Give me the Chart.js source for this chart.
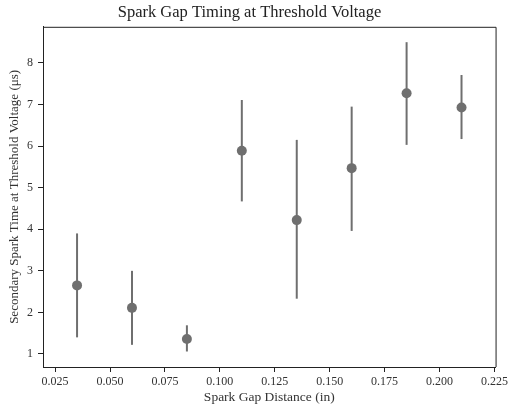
<!DOCTYPE html>
<html>
<head>
<meta charset="utf-8">
<script src="https://cdn.jsdelivr.net/npm/chart.js@4.4.0/dist/chart.umd.min.js"></script>
<style>
    html, body { margin: 0; padding: 0; background: #ffffff; }
    #wrap { width: 511px; height: 410px; position: relative; }
</style>
</head>
<body>
<div id="wrap"><canvas id="gapChart"></canvas></div>
<script>
// spark gap distance (in)
const gapDistance = [0.035, 0.060, 0.085, 0.110, 0.135, 0.160, 0.185, 0.210];
// mean secondary spark time (us)
const sparkTime = [2.65, 2.11, 1.36, 5.89, 4.22, 5.47, 7.27, 6.93];
// error bar ends
const errLow = [1.40, 1.22, 1.06, 4.67, 2.33, 3.96, 6.03, 6.17];
const errHigh = [3.90, 3.00, 1.69, 7.11, 6.15, 6.95, 8.50, 7.71];
// tick labels
const xTicks = [0.025, 0.050, 0.075, 0.100, 0.125, 0.150, 0.175, 0.200, 0.225];
const yTicks = [1, 2, 3, 4, 5, 6, 7, 8];

const markColor = '#6f6f6f';
const axisColor = '#222222';
const serif = "'Liberation Serif', 'DejaVu Serif', serif";

// draws the vertical error bars under the points
const errorBars = {
    id: 'errorBars',
    beforeDatasetsDraw(chart) {
        const ctx = chart.ctx;
        const xs = chart.scales.x;
        const ys = chart.scales.y;
        ctx.save();
        ctx.strokeStyle = markColor;
        ctx.lineWidth = 2;
        gapDistance.forEach((gx, i) => {
            const px = xs.getPixelForValue(gx);
            ctx.beginPath();
            ctx.moveTo(px, ys.getPixelForValue(errLow[i]));
            ctx.lineTo(px, ys.getPixelForValue(errHigh[i]));
            ctx.stroke();
        });
        ctx.restore();
    }
};

// top and right spines
const frame = {
    id: 'frame',
    afterDraw(chart) {
        const { ctx, chartArea: a } = chart;
        ctx.save();
        ctx.strokeStyle = axisColor;
        ctx.lineWidth = 1;
        ctx.beginPath();
        ctx.moveTo(a.left, a.top + 0.5);
        ctx.lineTo(a.right + 0.5, a.top + 0.5);
        ctx.lineTo(a.right + 0.5, a.bottom);
        ctx.stroke();
        ctx.restore();
    }
};

const points = gapDistance.map((gx, i) => ({ x: gx, y: sparkTime[i] }));

new Chart(document.getElementById('gapChart'), {
    type: 'scatter',
    data: {
        datasets: [{
            label: 'Spark time',
            data: points,
            backgroundColor: markColor,
            borderColor: markColor,
            pointRadius: 5,
            pointHoverRadius: 5,
            borderWidth: 0
        }]
    },
    options: {
        responsive: true,
        maintainAspectRatio: false,
        animation: false,
        layout: { padding: { top: 0, right: 12, bottom: 0, left: 0 } },
        scales: {
            x: {
                type: 'linear',
                min: 0.0195,
                max: 0.2255,
                afterBuildTicks: scale => {
                    scale.ticks = xTicks.map(v => ({ value: v }));
                },
                afterFit: scale => { scale.height = 43; },
                ticks: {
                    color: '#333333',
                    font: { family: serif, size: 12 },
                    padding: 3,
                    maxRotation: 0,
                    callback: v => Number(v).toFixed(3)
                },
                grid: {
                    drawOnChartArea: false,
                    drawTicks: true,
                    tickLength: 5,
                    color: axisColor
                },
                border: { color: axisColor, width: 1 },
                title: {
                    display: true,
                    text: 'Spark Gap Distance (in)',
                    color: '#333333',
                    font: { family: serif, size: 13.5 },
                    padding: { top: 0, bottom: 4 }
                }
            },
            y: {
                type: 'linear',
                min: 0.687,
                max: 8.87,
                afterBuildTicks: scale => {
                    scale.ticks = yTicks.map(v => ({ value: v }));
                },
                afterFit: scale => { scale.width = 43; },
                ticks: {
                    color: '#333333',
                    font: { family: serif, size: 12 },
                    padding: 5
                },
                grid: {
                    drawOnChartArea: false,
                    drawTicks: true,
                    tickLength: 5,
                    color: axisColor
                },
                border: { color: axisColor, width: 1 },
                title: {
                    display: true,
                    text: 'Secondary Spark Time at Threshold Voltage (μs)',
                    color: '#333333',
                    font: { family: serif, size: 13 },
                    padding: { top: 7, bottom: 0 }
                }
            }
        },
        plugins: {
            legend: { display: false },
            tooltip: { enabled: false },
            title: {
                display: true,
                text: 'Spark Gap Timing at Threshold Voltage',
                color: '#222222',
                font: { family: serif, size: 16.5, weight: 'normal' },
                padding: { top: 3, bottom: 4 }
            }
        }
    },
    plugins: [errorBars, frame]
});
</script>
</body>
</html>
